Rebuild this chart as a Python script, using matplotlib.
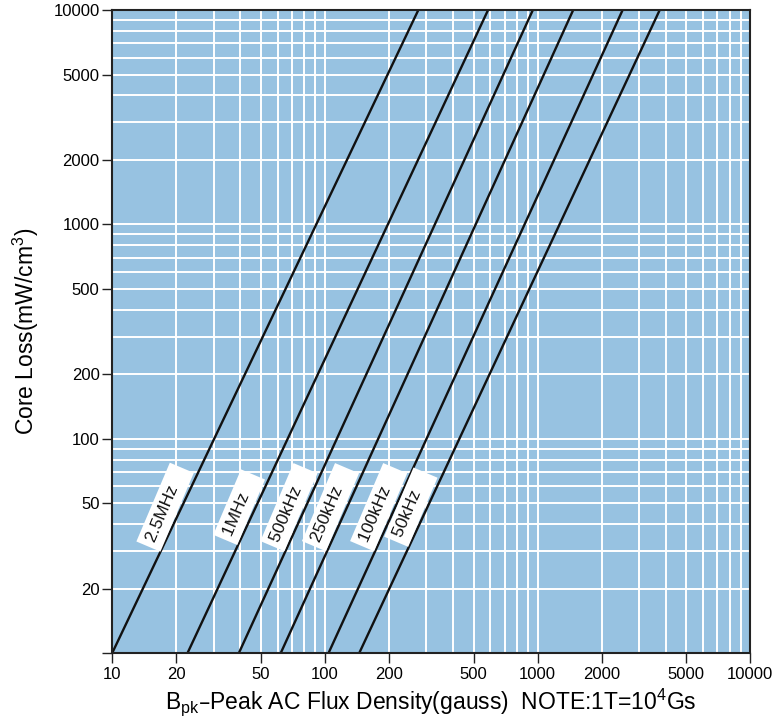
import numpy as np
import matplotlib
matplotlib.use("Agg")
import matplotlib.pyplot as plt
import matplotlib.ticker as ticker

plt.rcParams["font.family"] = ["Liberation Sans", "DejaVu Sans"]
plt.rcParams["mathtext.default"] = "regular"

# Lines: Bpk (gauss) where each line meets 10 and 10000 mW/cm3
freqs = ["2.5MHz", "1MHz", "500kHz", "250kHz", "100kHz", "50kHz"]
b_at_low = [10, 22.6, 39.4, 62, 104, 145]
b_at_high = [275, 585, 950, 1470, 2510, 3750]
loss_ends = [10, 10000]

x_ticks = [10, 20, 50, 100, 200, 500, 1000, 2000, 5000, 10000]
y_ticks = [10, 20, 50, 100, 200, 500, 1000, 2000, 5000, 10000]
y_labels = ["", "20", "50", "100", "200", "500", "1000", "2000", "5000", "10000"]

bg = "#97c2e1"

fig = plt.figure(figsize=(7.84, 7.21), dpi=100)
ax = fig.add_axes([0.143, 0.094, 0.814, 0.892])
ax.set_facecolor(bg)
ax.set_xscale("log")
ax.set_yscale("log")
ax.set_xlim(10, 10000)
ax.set_ylim(10, 10000)

# white grid, major and minor
ax.xaxis.set_minor_locator(ticker.LogLocator(base=10, subs=np.arange(2, 10)))
ax.yaxis.set_minor_locator(ticker.LogLocator(base=10, subs=np.arange(2, 10)))
ax.grid(which="both", color="white", linewidth=1.4)
ax.set_axisbelow(True)
ax.tick_params(which="minor", length=0)

for name, b0, b1 in zip(freqs, b_at_low, b_at_high):
    ax.plot([b0, b1], loss_ends, color="#111111", linewidth=1.7)
    # label sits left of the line around 50 mW/cm3
    slope = np.log10(loss_ends[1] / loss_ends[0]) / np.log10(b1 / b0)
    bx = b0 * (50 / loss_ends[0]) ** (1 / slope) * 0.82
    ax.text(bx, 48, name + "   ", rotation=67, rotation_mode="anchor",
            ha="center", va="center", fontsize=12.5, color="#111111",
            bbox=dict(boxstyle="square,pad=0.32", facecolor="white",
                      edgecolor="none"))

ax.set_xticks(x_ticks)
ax.set_xticklabels([str(v) for v in x_ticks])
ax.set_yticks(y_ticks)
ax.set_yticklabels(y_labels)
ax.tick_params(which="major", length=7, width=1, color="#222222",
               labelsize=12, direction="out")
ax.tick_params(axis="x", pad=3)
ax.tick_params(axis="y", pad=2)

for s in ax.spines.values():
    s.set_color("#222222")
    s.set_linewidth(1.5)

ax.set_ylabel("Core Loss(mW/cm$^3$)", fontsize=16.5, labelpad=9)
ax.set_xlabel("B$_{pk}$\u2013Peak AC Flux Density(gauss)  NOTE:1T=10$^4$Gs",
              fontsize=16.5, labelpad=3)

fig.savefig("out.png", dpi=100, facecolor="white")
